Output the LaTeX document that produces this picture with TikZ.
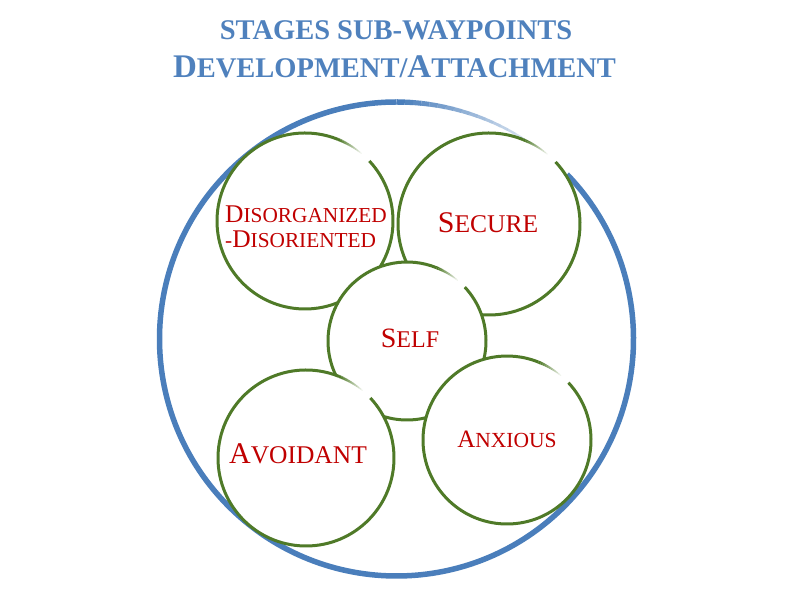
\documentclass[tikz,border=0pt]{standalone}
\usepackage{fontspec}
\setmainfont{Liberation Serif}
\definecolor{tblue}{HTML}{4F81BD}
\definecolor{cblue}{HTML}{4A7EBB}
\definecolor{cgreen}{HTML}{4F7A28}
\definecolor{lred}{HTML}{C00000}
\newcommand\fsz[1]{\fontsize{#1}{#1}\selectfont}
\newcommand\ringcirc[2]{%
  \fill[white] (#1) circle[radius=#2];
  \draw[ring] (#1) ++(43:#2) arc[start angle=43,end angle=-292,radius=#2];
  \foreach \i in {0,...,11}{%
    \pgfmathsetmacro\aa{68-\i*1.5}%
    \pgfmathsetmacro\op{1-\i/12}%
    \pgfmathsetmacro\lw{3-\i*0.17}%
    \draw[draw=cgreen,line width=\lw pt,draw opacity=\op] (#1) ++(\aa:#2) arc[start angle=\aa,end angle=\aa-1.5,radius=#2];
  }%
}
\begin{document}
\begin{tikzpicture}[x=1pt,y=1pt,
  ring/.style={draw=cgreen,line width=3pt},
  lbl/.style={text=lred,inner sep=0pt},
  ttl/.style={text=tblue,font=\bfseries,inner sep=0pt,anchor=base}]
\useasboundingbox (0,0) rectangle (792,612);

\coordinate (B) at (396.5,273);
\coordinate (dis) at (305,391);
\coordinate (secc) at (489,388);
\coordinate (selfc) at (407,271);
\coordinate (avoc) at (306,154);
\coordinate (anxc) at (507,172);

% big blue ring
\draw[cblue,line width=5.5pt] (B) ++(44:237) arc[start angle=44,end angle=-270,radius=237];
\foreach \i in {0,...,17}{%
  \pgfmathsetmacro\aa{90-\i*2}%
  \pgfmathsetmacro\op{1-\i/20}%
  \pgfmathsetmacro\lw{5.5-\i*0.22}%
  \draw[draw=cblue,line width=\lw pt,draw opacity=\op] (B) ++(\aa:237) arc[start angle=\aa,end angle=\aa-2,radius=237];
}

\ringcirc{dis}{88}
\ringcirc{secc}{91}
\ringcirc{selfc}{79}
\ringcirc{avoc}{88}
\ringcirc{anxc}{84}

\node[lbl,anchor=base west] (disA) at (225,389) {\fsz{25.5}D\fsz{21.3}ISORGANIZED};
\node[lbl,anchor=base west] (disB) at (225,364) {\fsz{21.3}-\fsz{25.5}D\fsz{21.3}ISORIENTED};
\node[lbl,anchor=base] (sec) at (488,379.3) {\fsz{30}S\fsz{25.5}ECURE};
\node[lbl,anchor=base] (self) at (410,264.3) {\fsz{28}S\fsz{24}ELF};
\node[lbl,anchor=base] (avo) at (298,148) {\fsz{30}A\fsz{25.5}VOIDANT};
\node[lbl,anchor=base] (anx) at (507,164.7) {\fsz{25}A\fsz{21.5}NXIOUS};

\node[ttl] (t1) at (396,572) {\fsz{28.5}STAGES SUB-WAYPOINTS};
\node[ttl] (t2) at (394.5,534) {\fsz{33}D\fsz{28.5}EVELOPMENT/\fsz{33}A\fsz{28.5}TTACHMENT};
\end{tikzpicture}
\end{document}
